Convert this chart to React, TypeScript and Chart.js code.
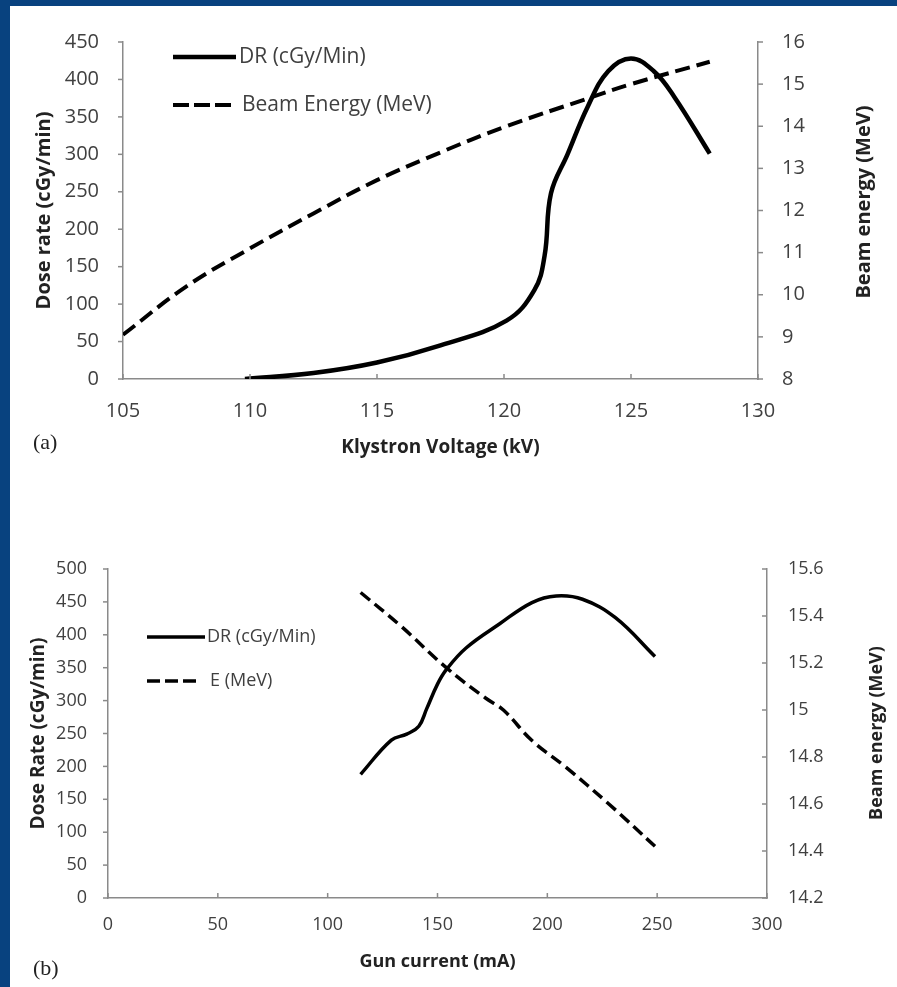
import React, { useEffect, useRef } from 'react';
import { Chart, registerables } from 'chart.js';

Chart.register(...registerables);

// ---------- Panel (a): Klystron voltage ----------
const kvDoseA = [109.8, 112.5, 115, 117.5, 120.1, 121.2, 121.6, 121.85, 122.5, 123.3, 124.1, 125, 125.9, 126.7, 128.1];
const doseA = [0, 8, 22, 45, 78, 119, 165, 248, 300, 364, 411, 428, 411, 377, 301];
const kvEnergyA = [105, 107.5, 110, 112.5, 115, 117.5, 120, 123.3, 125, 128.1];
const energyA = [9.05, 10.2, 11.1, 11.93, 12.72, 13.38, 13.98, 14.66, 15.0, 15.53];
const xTicksA = [105, 110, 115, 120, 125, 130];
const yTicksA = [0, 50, 100, 150, 200, 250, 300, 350, 400, 450];
const y1TicksA = [8, 9, 10, 11, 12, 13, 14, 15, 16];

// ---------- Panel (b): Gun current ----------
const mADoseB = [115, 129, 136, 141.5, 145, 150, 154, 163, 178, 193, 204, 216, 231, 249];
const doseB = [188, 240, 249, 261, 287, 325, 347, 380, 416, 449, 459, 454, 426, 367];
const mAEnergyB = [115, 133, 154, 172, 180, 193, 208, 228, 249];
const energyB = [15.5, 15.36, 15.18, 15.05, 15.0, 14.87, 14.76, 14.6, 14.42];
const xTicksB = [0, 50, 100, 150, 200, 250, 300];
const yTicksB = [0, 50, 100, 150, 200, 250, 300, 350, 400, 450, 500];
const y1TicksB = [14.2, 14.4, 14.6, 14.8, 15, 15.2, 15.4, 15.6];

const FONT = "'Open Sans', sans-serif";
const AXIS = '#8a8a8a';
const TICK_TEXT = '#404040';
const TITLE_TEXT = '#222222';

const pts = (xs: number[], ys: number[]) => xs.map((x, i) => ({ x, y: ys[i] }));
const fmt = (v: any) => String(Math.round(Number(v) * 10) / 10);

const decorPlugin = {
  id: 'decor',
  afterDraw(chart: any, _args: any, opts: any) {
    const ctx = chart.ctx;
    const ca = chart.chartArea;
    ctx.save();
    // tick marks
    ctx.strokeStyle = AXIS;
    ctx.lineWidth = 1.5;
    Object.keys(opts.marks || {}).forEach((id) => {
      const s = chart.scales[id];
      const dir = opts.marks[id];
      const L = 5;
      s.ticks.forEach((t: any) => {
        const p = s.getPixelForValue(t.value);
        ctx.beginPath();
        if (s.isHorizontal()) {
          const y = ca.bottom;
          ctx.moveTo(p, y);
          ctx.lineTo(p, dir === 'in' ? y - L : y + L);
        } else {
          const x = s.position === 'left' ? ca.left : ca.right;
          const outSign = s.position === 'left' ? -1 : 1;
          const sign = dir === 'out' ? outSign : -outSign;
          ctx.moveTo(x, p);
          ctx.lineTo(x + sign * L, p);
        }
        ctx.stroke();
      });
    });
    // right axis title (reads bottom to top)
    if (opts.rightTitle) {
      const rt = opts.rightTitle;
      ctx.save();
      ctx.translate(rt.x, rt.y);
      ctx.rotate(-Math.PI / 2);
      ctx.font = `bold ${rt.size}px ${FONT}`;
      ctx.fillStyle = TITLE_TEXT;
      ctx.textAlign = 'center';
      ctx.textBaseline = 'middle';
      ctx.fillText(rt.text, 0, 0);
      ctx.restore();
    }
    // legend inside plot
    if (opts.legend) {
      const lg = opts.legend;
      chart.data.datasets.forEach((ds: any, i: number) => {
        const it = lg.items[i];
        ctx.save();
        ctx.strokeStyle = ds.borderColor;
        ctx.lineWidth = ds.borderWidth;
        ctx.setLineDash(it.dash || []);
        ctx.beginPath();
        ctx.moveTo(it.x1, it.y);
        ctx.lineTo(it.x2, it.y);
        ctx.stroke();
        ctx.setLineDash([]);
        ctx.font = `${lg.size}px ${FONT}`;
        ctx.fillStyle = TICK_TEXT;
        ctx.textAlign = 'left';
        ctx.textBaseline = 'middle';
        ctx.fillText(ds.label, it.tx, it.y);
        ctx.restore();
      });
    }
    ctx.restore();
  },
};

function makeConfig(p: any) {
  return {
    type: 'line',
    data: {
      datasets: [
        {
          label: p.label1,
          data: pts(p.x1, p.y1),
          yAxisID: 'y',
          borderColor: '#000000',
          borderWidth: p.lw1,
          pointRadius: 0,
          tension: 0.4,
          fill: false,
        },
        {
          label: p.label2,
          data: pts(p.x2, p.y2),
          yAxisID: 'y1',
          borderColor: '#000000',
          borderWidth: p.lw2,
          borderDash: p.dash,
          pointRadius: 0,
          tension: 0.4,
          fill: false,
        },
      ],
    },
    options: {
      animation: false,
      responsive: false,
      maintainAspectRatio: false,
      layout: { padding: { top: p.padTop, left: 0, right: 0, bottom: 0 } },
      plugins: {
        legend: { display: false },
        tooltip: { enabled: false },
        decor: {
          marks: p.marks,
          rightTitle: p.rightTitle,
          legend: p.legend,
        },
      },
      scales: {
        x: {
          type: 'linear',
          position: 'bottom',
          min: p.xTicks[0],
          max: p.xTicks[p.xTicks.length - 1],
          afterBuildTicks: (s: any) => { s.ticks = p.xTicks.map((v: number) => ({ value: v })); },
          afterFit: (s: any) => { s.height = p.xHeight; },
          grid: { display: false, drawTicks: false },
          border: { display: true, color: AXIS, width: 1.5 },
          ticks: { color: TICK_TEXT, font: { family: FONT, size: p.tickSize }, padding: p.xTickPad, callback: fmt, maxRotation: 0, autoSkip: false },
          title: { display: true, text: p.xTitle, color: TITLE_TEXT, font: { family: FONT, size: p.xTitleSize, weight: 'bold' }, padding: { top: 0, bottom: p.xTitlePad } },
        },
        y: {
          type: 'linear',
          position: 'left',
          min: p.yTicks[0],
          max: p.yTicks[p.yTicks.length - 1],
          afterBuildTicks: (s: any) => { s.ticks = p.yTicks.map((v: number) => ({ value: v })); },
          afterFit: (s: any) => { s.width = p.yWidth; },
          grid: { display: false, drawTicks: false },
          border: { display: true, color: AXIS, width: 1.5 },
          ticks: { color: TICK_TEXT, font: { family: FONT, size: p.tickSize }, padding: p.yTickPad, callback: fmt, autoSkip: false },
          title: { display: true, text: p.yTitle, color: TITLE_TEXT, font: { family: FONT, size: p.yTitleSize, weight: 'bold' }, padding: { top: p.yTitlePad, bottom: 0 } },
        },
        y1: {
          type: 'linear',
          position: 'right',
          min: p.y1Ticks[0],
          max: p.y1Ticks[p.y1Ticks.length - 1],
          afterBuildTicks: (s: any) => { s.ticks = p.y1Ticks.map((v: number) => ({ value: v })); },
          afterFit: (s: any) => { s.width = p.y1Width; },
          grid: { display: false, drawTicks: false },
          border: { display: true, color: AXIS, width: 1.5 },
          ticks: { color: TICK_TEXT, font: { family: FONT, size: p.tickSize }, padding: p.yTickPad, callback: fmt, autoSkip: false },
          title: { display: false },
        },
      },
    },
    plugins: [decorPlugin],
  };
}

const panelA = {
  label1: 'DR (cGy/Min)', label2: 'Beam Energy (MeV)',
  x1: kvDoseA, y1: doseA, x2: kvEnergyA, y2: energyA,
  lw1: 4.5, lw2: 4, dash: [15, 7],
  xTicks: xTicksA, yTicks: yTicksA, y1Ticks: y1TicksA,
  padTop: 24, xHeight: 91, yWidth: 113, y1Width: 139,
  tickSize: 20, xTickPad: 20, yTickPad: 24,
  xTitle: 'Klystron Voltage (kV)', xTitleSize: 19, xTitlePad: 11,
  yTitle: 'Dose rate (cGy/min)', yTitleSize: 20, yTitlePad: 22,
  marks: { y: 'out', y1: 'out', x: 'in' },
  rightTitle: { text: 'Beam energy (MeV)', x: 854, y: 196, size: 20 },
  legend: {
    size: 21,
    items: [
      { x1: 163, x2: 226, y: 51, tx: 229, dash: [] },
      { x1: 163, x2: 221, y: 99, tx: 232, dash: [16, 5] },
    ],
  },
};

const panelB = {
  label1: 'DR (cGy/Min)', label2: 'E (MeV)',
  x1: mADoseB, y1: doseB, x2: mAEnergyB, y2: energyB,
  lw1: 3.5, lw2: 3.5, dash: [12, 6],
  xTicks: xTicksB, yTicks: yTicksB, y1Ticks: y1TicksB,
  padTop: 89, xHeight: 89, yWidth: 98, y1Width: 130,
  tickSize: 18, xTickPad: 16, yTickPad: 21,
  xTitle: 'Gun current (mA)', xTitleSize: 18, xTitlePad: 14,
  yTitle: 'Dose Rate (cGy/min)', yTitleSize: 19, yTitlePad: 17,
  marks: { y: 'out', y1: 'in', x: 'in' },
  rightTitle: { text: 'Beam energy (MeV)', x: 867, y: 253, size: 18 },
  legend: {
    size: 18,
    items: [
      { x1: 137, x2: 195, y: 157, tx: 197, dash: [] },
      { x1: 137, x2: 186, y: 201, tx: 200, dash: [13, 5] },
    ],
  },
};

function Panel({ cfg, width, height, top }: { cfg: any; width: number; height: number; top: number }) {
  const ref = useRef<HTMLCanvasElement | null>(null);
  useEffect(() => {
    if (!ref.current) return;
    const chart = new Chart(ref.current, makeConfig(cfg) as any);
    return () => chart.destroy();
  }, [cfg]);
  return (
    <canvas
      ref={ref}
      width={width}
      height={height}
      style={{ position: 'absolute', left: 0, top, width, height, display: 'block' }}
    />
  );
}

export default function App() {
  const tag: React.CSSProperties = {
    position: 'absolute',
    fontFamily: "'Liberation Serif', 'Times New Roman', serif",
    fontSize: 22,
    color: '#222',
    lineHeight: '24px',
  };
  return (
    <div style={{ position: 'absolute', left: 0, top: 0, width: 897, height: 987, background: '#08427f', overflow: 'hidden' }}>
      <div style={{ position: 'absolute', left: 10, top: 6, width: 887, height: 981, background: '#ffffff' }}>
        <Panel cfg={panelA} width={887} height={464} top={0} />
        <Panel cfg={panelB} width={887} height={507} top={474} />
        <div style={{ ...tag, left: 23, top: 424 }}>(a)</div>
        <div style={{ ...tag, left: 23, top: 950 }}>(b)</div>
      </div>
    </div>
  );
}
